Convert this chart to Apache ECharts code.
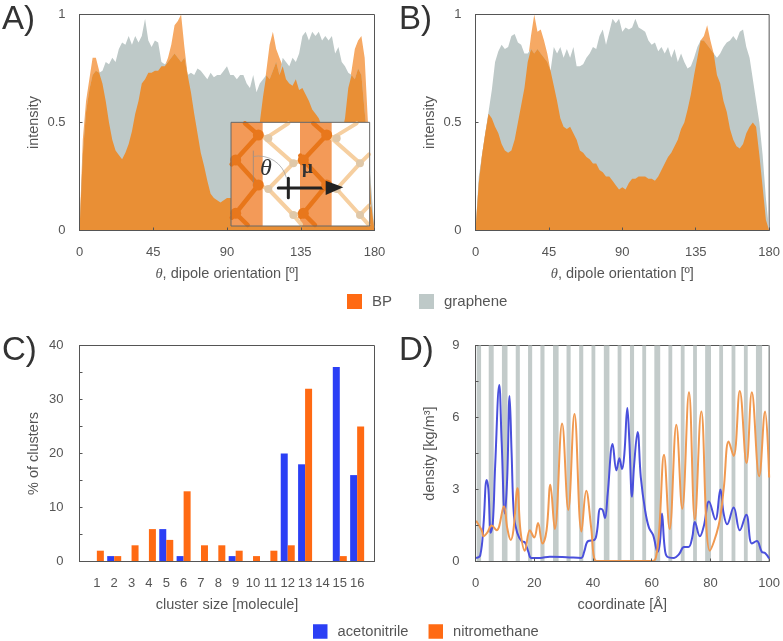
<!DOCTYPE html>
<html>
<head>
<meta charset="utf-8">
<style>
  html, body { margin: 0; padding: 0; background: #fff; }
  #chart { width: 783px; height: 641px; }
</style>
</head>
<body>
<div id="chart"></div>
<script src="https://cdn.jsdelivr.net/npm/echarts@6/dist/echarts.min.js"></script>
<script>
// panel A and B, sampled every 2 degrees
var angles = Array.from({ length: 91 }, function (_, i) { return i * 2; });
var bpA = [0, .42, .6, .7, .8, .8, .74, .68, .6, .5, .42, .37, .35, .33, .36, .4, .46, .54, .6, .68, .7, .73, .73, .74, .74, .76, .76, .8, .86, .95, .97, 1, .85, .72, .64, .54, .45, .36, .3, .23, .17, .15, .14, .13, .14, .15, .15, .15, .15, .17, .2, .26, .32, .38, .44, .5, .62, .74, .86, .92, .84, .8, .76, .7, .68, .67, .7, .65, .66, .63, .6, .56, .54, .52, .48, .45, .42, .4, .38, .4, .45, .52, .66, .74, .84, .88, .9, .8, .5, .12, 0];
var grapheneA = [0, .35, .55, .65, .72, .74, .73, .74, .78, .77, .8, .78, .84, .87, .86, .9, .86, .9, .87, .9, .98, .88, .85, .88, .87, .78, .77, .78, .8, .82, .8, .78, .8, .72, .73, .72, .75, .74, .72, .7, .73, .71, .72, .72, .74, .76, .72, .72, .7, .72, .72, .68, .66, .72, .64, .68, .7, .72, .7, .74, .78, .72, .8, .78, .76, .8, .78, .82, .9, .92, .88, .92, .9, .92, .88, .9, .88, .9, .82, .85, .78, .76, .73, .72, .7, .75, .72, .55, .4, .2, 0];
var bpB = [0, .22, .35, .45, .54, .52, .48, .45, .4, .37, .36, .37, .42, .5, .58, .66, .78, .9, 1, .92, .93, .88, .82, .74, .67, .6, .52, .48, .47, .48, .45, .42, .37, .36, .34, .33, .31, .31, .28, .27, .25, .25, .23, .21, .19, .2, .19, .22, .24, .24, .25, .25, .25, .24, .24, .23, .25, .28, .31, .34, .36, .39, .42, .47, .5, .56, .63, .72, .8, .88, .9, .95, .88, .82, .72, .68, .6, .55, .47, .42, .39, .38, .4, .45, .48, .5, .48, .35, .2, .05, 0];
var grapheneB = [0, .25, .35, .45, .55, .65, .78, .83, .86, .84, .85, .9, .91, .87, .86, .82, .82, .84, .82, .84, .82, .8, .78, .74, .85, .82, .85, .8, .84, .8, .85, .76, .76, .77, .8, .82, .85, .84, .9, .93, .86, .92, .98, .96, .98, .92, .94, .93, .94, .98, .94, .93, .92, .88, .86, .87, .83, .85, .82, .85, .8, .84, .78, .82, .78, .75, .76, .8, .85, .88, .88, .86, .84, .82, .8, .82, .85, .87, .88, .9, .88, .92, .93, .85, .8, .7, .6, .5, .35, .15, 0];

// panel C
var clusterSizes = [1, 2, 3, 4, 5, 6, 7, 8, 9, 10, 11, 12, 13, 14, 15, 16];
var acetonitrileClusters = [0, 1, 0, 0, 6, 1, 0, 0, 1, 0, 0, 20, 18, 0, 36, 16];
var nitromethaneClusters = [2, 1, 3, 6, 4, 13, 3, 3, 2, 1, 2, 3, 32, 0, 1, 25];

// panel D
var acetonitrileX = [.2, 1.6, 2.7, 3.8, 4.4, 5.2, 5.9, 6.7, 8.1, 8.9, 10, 10.8, 11.6, 12.3, 13.1, 14.2, 15.7, 16.8, 18, 19, 22, 25.3, 31, 36, 37, 38.3, 40.5, 41.3, 42.5, 43.3, 44.1, 45, 46.7, 48, 49, 49.9, 50.7, 51.7, 52.4, 53.3, 54, 55.2, 56.3, 57.8, 59.1, 60.5, 62, 62.8, 63.5, 64.4, 65.3, 67.6, 69.3, 71, 72.5, 73.8, 74.7, 76.4, 77.8, 79.5, 81.7, 83.4, 84.5, 85.7, 87.9, 90, 92.2, 94.1, 95.8, 97.5, 98.6, 100];
var acetonitrileY = [.15, .25, 1.5, 3.4, 3, 1.2, 1.6, 4, 7.35, 5, 2, 3.5, 6.9, 4.5, 1.9, 1.2, .85, .8, .4, .15, .15, .2, .18, .15, .4, .85, .9, 1.2, 2.2, 2.15, 1.8, 2.8, 4.9, 3.8, 4.3, 3.85, 4.5, 6.4, 5, 2.7, 4, 5.4, 3.5, 2.1, 1.4, 1.1, .4, .8, 2, .6, .2, .15, .3, .6, .6, 1, 1.65, 1.05, 1.5, 2.5, 1.75, 3, 2, 1.55, 2.25, 1.3, 1.95, .75, .85, .4, .35, .12];
var nitromethaneX = [.2, 2.1, 2.7, 4, 5.5, 7.2, 9.7, 10.8, 12, 12.9, 14.3, 15.3, 16.8, 18.5, 20, 21.3, 22.8, 24.2, 25.5, 27, 29.5, 31.6, 33.7, 36.1, 37.7, 39.4, 40.7, 42.2, 60.3, 61.4, 62.5, 64.2, 66.1, 68.4, 70.4, 72.7, 74.7, 76.9, 79.8, 82.8, 84.5, 86.2, 87.9, 90, 92.3, 94.1, 96.6, 98.6, 100];
var nitromethaneY = [1.7, 1.3, 1.05, 1.2, 1.5, 1.3, 2.3, 1.4, .9, 1.3, 3.05, 1.3, .45, 1.3, 1, 1.6, .75, 1.3, 3.2, 1.35, 5.75, 2.15, 6.15, 1.25, 2.95, 1.4, .05, .02, .02, .15, 1.2, 4.45, 1.35, 5.7, 2.2, 7.05, 1.75, 6.25, .45, 1.5, 3, 5, 4.4, 7.1, 4.1, 7.05, 3.55, 6.25, 3.5];
var stripeStarts = [.4, 4.5, 9, 13.7, 17.9, 22.1, 26.4, 31, 35.3, 39.5, 43.7, 48.4, 52.6, 56.8, 60.9, 65.7, 69.9, 74.1, 78.2, 83, 87.2, 91.4, 95.5, 99.7];
var stripeEnds = [1.9, 6.2, 10.9, 15.1, 19.3, 23.5, 28.3, 32.4, 36.7, 40.8, 45.6, 49.7, 54, 58.1, 62.9, 67, 71.2, 75.4, 80.2, 84.3, 88.5, 92.7, 97.6, 100];

var ink = "#555";
var fontFamily = "Liberation Sans, Arial, sans-serif";
var orangeLight = "#F6A964";
var orangeDark = "#E98F35";
var greyFill = "#BEC9C8";
var barBlue = "#2B3FF5";
var barOrange = "#FF6A13";
var lineBlue = "#4A50DC";
var lineOrange = "#F09950";
var serifItalic = { fontStyle: "italic", fontFamily: "Liberation Serif, serif", color: ink, fontSize: 14.5 };

function pairs(xs, ys) {
  return xs.map(function (x, i) { return [x, ys[i]]; });
}

function area(name, color, data, index, z) {
  return {
    name: name,
    type: "line",
    xAxisIndex: index,
    yAxisIndex: index,
    data: data,
    symbol: "none",
    silent: true,
    z: z,
    lineStyle: { width: 0 },
    areaStyle: { color: color, opacity: 1 },
  };
}

// BP over white is light, BP over graphene is darker
function anglePanel(index, bp, graphene) {
  var overlap = bp.map(function (v, i) { return Math.min(v, graphene[i]); });
  return [
    area("BP", orangeLight, pairs(angles, bp), index, 2),
    area("graphene", greyFill, pairs(angles, graphene), index, 3),
    area("overlap", orangeDark, pairs(angles, overlap), index, 4),
  ];
}

function xAxis(index, name, min, max, interval, extra) {
  return Object.assign({
    type: "value",
    gridIndex: index,
    name: name,
    nameLocation: "middle",
    nameGap: 36,
    nameTextStyle: { color: ink, fontSize: 14.5, fontFamily: fontFamily, rich: { i: serifItalic } },
    min: min,
    max: max,
    interval: interval,
    splitLine: { show: false },
    axisLine: { lineStyle: { color: ink, width: 1 }, onZero: false },
    axisTick: { inside: true, length: 3, lineStyle: { color: ink } },
    axisLabel: { color: ink, fontSize: 13, margin: 15, fontFamily: fontFamily, showMinLabel: true, showMaxLabel: true },
    z: 10,
  }, extra);
}

function yAxis(index, name, max, interval, minor, margin) {
  return {
    type: "value",
    gridIndex: index,
    name: name,
    nameLocation: "middle",
    nameGap: 38,
    nameTextStyle: { color: ink, fontSize: 14.5, fontFamily: fontFamily },
    min: 0,
    max: max,
    interval: interval,
    splitLine: { show: false },
    axisLine: { show: true, lineStyle: { color: ink, width: 1 } },
    axisTick: { inside: true, length: 3, lineStyle: { color: ink } },
    minorTick: { show: minor, splitNumber: 2, length: 3, lineStyle: { color: ink } },
    minorSplitLine: { show: false },
    axisLabel: { color: ink, fontSize: 13, margin: margin, fontFamily: fontFamily, showMinLabel: true, showMaxLabel: true },
    z: 10,
  };
}

function grid(left, top) {
  return { left: left, top: top, width: 295, height: 216, show: true, borderColor: ink, borderWidth: 1, backgroundColor: "transparent" };
}

function letter(text, left, top) {
  return { text: text, left: left, top: top, padding: 0, textStyle: { color: "#333", fontSize: 33, fontWeight: "normal", fontFamily: fontFamily } };
}

// inset drawing, coordinates follow the crop of the lattice picture
var insetX = 225, insetY = 115;
function px(p) { return [insetX + p[0] / 3, insetY + p[1] / 3]; }
function bond(a, b, color, width) {
  var s = px(a), e = px(b);
  return { type: "line", z: 30, silent: true, shape: { x1: s[0], y1: s[1], x2: e[0], y2: e[1] }, style: { stroke: color, lineWidth: width, lineCap: "round" } };
}
function atom(p, color, r) {
  var c = px(p);
  return { type: "circle", z: 31, silent: true, shape: { cx: c[0], cy: c[1], r: r }, style: { fill: color } };
}
function box(a, b, style, z) {
  var s = px(a), e = px(b);
  return { type: "rect", z: z, silent: true, shape: { x: s[0], y: s[1], width: e[0] - s[0], height: e[1] - s[1] }, style: style };
}

var inset = [
  box([18, 22], [434, 333], { fill: "#fff" }, 28),
  box([18, 22], [113, 333], { fill: "#F39A58" }, 29),
  box([225, 22], [320, 333], { fill: "#F39A58" }, 29),
];
var lightBonds = [
  [[115, 65], [205, 145]], [[205, 145], [130, 222]], [[130, 222], [205, 300]], [[205, 300], [228, 328]], [[190, 25], [125, 68]],
  [[315, 65], [405, 145]], [[405, 145], [335, 222]], [[335, 222], [405, 300]], [[405, 300], [430, 328]], [[395, 25], [325, 68]],
  [[405, 145], [432, 118]], [[405, 300], [432, 272]], [[205, 145], [235, 135]], [[205, 300], [235, 295]],
  [[130, 222], [100, 210]], [[335, 222], [305, 210]], [[125, 68], [100, 60]], [[325, 68], [305, 60]],
];
lightBonds.forEach(function (b) { inset.push(bond(b[0], b[1], "#F6CFA0", 4)); });
var darkBonds = [
  [[60, 25], [100, 60]], [[100, 60], [32, 135]], [[32, 135], [100, 210]], [[100, 210], [32, 295]], [[32, 295], [68, 330]],
  [[265, 25], [305, 60]], [[305, 60], [235, 135]], [[235, 135], [305, 210]], [[305, 210], [235, 295]], [[235, 295], [270, 330]],
  [[32, 135], [20, 148]], [[32, 295], [20, 308]], [[235, 135], [226, 122]], [[235, 295], [226, 305]],
];
darkBonds.forEach(function (b) { inset.push(bond(b[0], b[1], "#E8761A", 4.5)); });
[[100, 60], [32, 135], [100, 210], [32, 295], [305, 60], [235, 135], [305, 210], [235, 295]].forEach(function (p) {
  inset.push(atom(p, "#E8771C", 5.5));
});
[[130, 70], [205, 145], [130, 222], [205, 300], [335, 70], [405, 145], [335, 222], [405, 300]].forEach(function (p) {
  inset.push(atom(p, "#E0C8A8", 4));
});
inset.push(bond([85, 108], [85, 212], "#888", 0.7));
inset.push({
  type: "arc", z: 32, silent: true,
  shape: { cx: px([100, 210])[0], cy: px([100, 210])[1], r: 29, startAngle: -1.75, endAngle: -0.25, clockwise: true },
  style: { fill: "none", stroke: "#999", lineWidth: 0.7 },
});
inset.push(bond([160, 219], [312, 219], "#222", 3));
inset.push(bond([190, 190], [190, 248], "#222", 3));
inset.push({
  type: "polygon", z: 33, silent: true,
  shape: { points: [px([302, 197]), px([355, 217]), px([302, 240])] },
  style: { fill: "#222" },
});
inset.push({ type: "text", z: 33, silent: true, x: 260, y: 157, style: { text: "θ", fill: "#333", font: "italic 24px Liberation Serif, serif" } });
inset.push({ type: "text", z: 33, silent: true, x: 302, y: 159, style: { text: "μ", fill: "#333", font: "bold 19px Liberation Serif, serif" } });
inset.push(box([18, 22], [434, 333], { fill: "none", stroke: "#666", lineWidth: 1 }, 34));

var stripes = stripeStarts.map(function (s, i) {
  return [{ xAxis: s }, { xAxis: stripeEnds[i] }];
});

var myChart = echarts.init(document.getElementById("chart"), null, { renderer: "canvas" });
myChart.setOption({
  animation: false,
  backgroundColor: "#fff",
  textStyle: { fontFamily: fontFamily },
  title: [letter("A)", 2, 3), letter("B)", 399, 3), letter("C)", 2, 334), letter("D)", 399, 334)],
  grid: [grid(79.5, 14.5), grid(475.5, 14.5), grid(79.5, 345.5), grid(475.5, 345.5)],
  legend: [
    {
      data: [{ name: "BP", itemStyle: { color: barOrange } }, { name: "graphene", itemStyle: { color: greyFill } }],
      left: 342, top: 289, itemWidth: 15, itemHeight: 15, itemGap: 27, icon: "rect",
      textStyle: { color: ink, fontSize: 15, fontFamily: fontFamily, padding: [0, 0, 0, 5] },
      selectedMode: false,
    },
    {
      data: [{ name: "acetonitrile", itemStyle: { color: barBlue } }, { name: "nitromethane", itemStyle: { color: barOrange } }],
      left: 308, top: 619, itemWidth: 14.5, itemHeight: 14.5, itemGap: 20, icon: "rect",
      textStyle: { color: ink, fontSize: 14.7, fontFamily: fontFamily, padding: [0, 0, 0, 5] },
      selectedMode: false,
    },
  ],
  xAxis: [
    xAxis(0, "{i|θ}, dipole orientation [º]", 0, 180, 45, {}),
    xAxis(1, "{i|θ}, dipole orientation [º]", 0, 180, 45, {}),
    xAxis(2, "cluster size [molecule]", 0, 17, 1, {
      axisTick: { show: false },
      axisLabel: {
        color: ink, fontSize: 13, margin: 15, fontFamily: fontFamily,
        formatter: function (v) { return clusterSizes.indexOf(v) >= 0 ? String(v) : ""; },
      },
    }),
    xAxis(3, "coordinate [Å]", 0, 100, 20, {}),
  ],
  yAxis: [
    yAxis(0, "intensity", 1, 0.5, false, 14),
    yAxis(1, "intensity", 1, 0.5, false, 14),
    yAxis(2, "% of clusters", 40, 10, true, 16),
    yAxis(3, "density [kg/m³]", 9, 3, true, 16),
  ],
  series: anglePanel(0, bpA, grapheneA).concat(anglePanel(1, bpB, grapheneB), [
    {
      name: "acetonitrile",
      type: "bar",
      xAxisIndex: 2,
      yAxisIndex: 2,
      data: pairs(clusterSizes, acetonitrileClusters),
      barWidth: 7,
      barGap: 0,
      itemStyle: { color: barBlue },
    },
    {
      name: "nitromethane",
      type: "bar",
      xAxisIndex: 2,
      yAxisIndex: 2,
      data: pairs(clusterSizes, nitromethaneClusters),
      barWidth: 7,
      barGap: 0,
      itemStyle: { color: barOrange },
    },
    {
      name: "acetonitrile",
      type: "line",
      xAxisIndex: 3,
      yAxisIndex: 3,
      data: pairs(acetonitrileX, acetonitrileY),
      smooth: 0.4,
      symbol: "none",
      z: 5,
      lineStyle: { color: lineBlue, width: 2 },
      markArea: { silent: true, itemStyle: { color: "#C3CBCA", opacity: 1 }, z: 1, data: stripes },
    },
    {
      name: "nitromethane",
      type: "line",
      xAxisIndex: 3,
      yAxisIndex: 3,
      data: pairs(nitromethaneX, nitromethaneY),
      smooth: 0.4,
      symbol: "none",
      z: 6,
      lineStyle: { color: lineOrange, width: 2 },
    },
  ]),
  graphic: { elements: [{ type: "group", z: 28, children: inset }] },
});

window.addEventListener("resize", function () {
  myChart.resize();
});
</script>
</body>
</html>
